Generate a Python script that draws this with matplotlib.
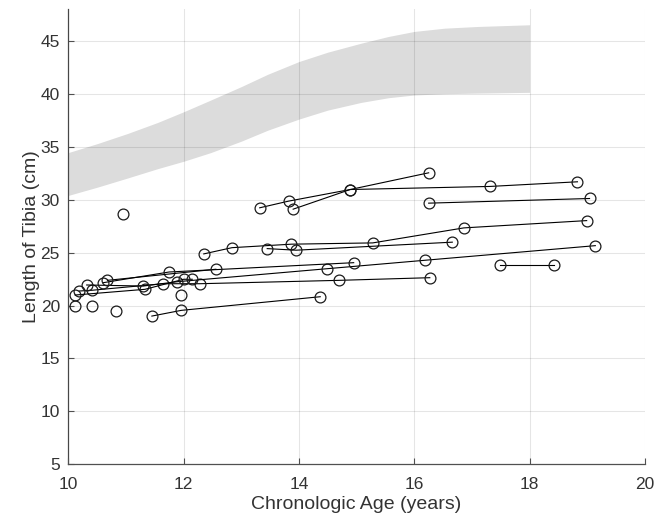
import matplotlib
matplotlib.use("Agg")
import matplotlib.pyplot as plt
import numpy as np

plt.rcParams['font.family'] = ['Liberation Sans', 'DejaVu Sans']

# normal range band (reference population)
band_age = [10.0, 10.51, 11.03, 11.55, 12.0, 12.47, 13.0, 13.46, 14.0, 14.5,
            15.08, 15.55, 16.0, 16.53, 17.1, 18.0]
band_low = [30.41, 31.20, 32.06, 32.94, 33.64, 34.46, 35.54, 36.58, 37.63, 38.48,
            39.21, 39.65, 39.91, 40.03, 40.09, 40.16]
band_high = [34.46, 35.32, 36.27, 37.31, 38.32, 39.43, 40.70, 41.87, 43.07, 43.96,
             44.81, 45.44, 45.92, 46.23, 46.39, 46.55]

# longitudinal patients (age, tibia length)
patients = [
    ([11.45, 11.96, 14.37], [19.0, 19.54, 20.83]),
    ([13.32, 13.82, 14.89, 16.25], [29.24, 29.87, 30.97, 32.55]),
    ([13.90, 14.89, 17.31, 18.83], [29.11, 30.97, 31.26, 31.70]),
    ([16.25, 19.04], [29.68, 30.12]),
    ([12.35, 12.84, 13.87, 15.28, 16.86, 18.99], [24.88, 25.47, 25.80, 25.92, 27.34, 28.03]),
    ([13.45, 13.95, 16.66], [25.38, 25.23, 25.99]),
    ([17.48, 18.42], [23.83, 23.83]),
    ([10.19, 10.41, 11.64, 12.28, 14.70, 16.27], [21.37, 21.44, 22.06, 22.06, 22.38, 22.63]),
    ([10.32, 11.30, 11.89, 14.49, 16.19, 19.14], [21.94, 21.84, 22.25, 23.48, 24.28, 25.66]),
    ([10.61, 11.75, 14.95], [22.16, 23.17, 24.05]),
    ([10.68, 12.56], [22.38, 23.43]),
    ([10.12, 11.33, 12.00, 12.15], [20.99, 21.53, 22.48, 22.48]),
]

# single visits
single_age = [10.12, 10.42, 10.83, 10.95, 11.96]
single_len = [19.92, 19.92, 19.45, 28.67, 20.99]

fig = plt.figure(figsize=(6.69, 5.25), dpi=100)
ax = fig.add_axes([0.102, 0.116, 0.862, 0.866])

ax.fill_between(band_age, band_low, band_high, color='#dcdcdc', lw=0, zorder=1)

for ages, lens in patients:
    ax.plot(ages, lens, '-o', color='black', lw=0.8, ms=7.8, mfc='none',
            mec='#1a1a1a', mew=0.9, zorder=3)
ax.plot(single_age, single_len, 'o', ms=7.8, mfc='none', mec='#1a1a1a',
        mew=0.9, zorder=3)

ax.set_xlim(10, 20)
ax.set_ylim(5, 48)
ax.set_xticks(np.arange(10, 21, 2))
ax.set_yticks(np.arange(5, 46, 5))
ax.grid(True, color='black', alpha=0.1, lw=0.8)
ax.set_axisbelow(False)

for s in ['top', 'right']:
    ax.spines[s].set_visible(False)
for s in ['left', 'bottom']:
    ax.spines[s].set_color('#505050')
    ax.spines[s].set_linewidth(0.9)

ax.tick_params(direction='in', length=4, width=0.8, colors='#505050',
               labelcolor='#333333', labelsize=12.5)
ax.tick_params(axis='x', pad=9)
ax.tick_params(axis='y', pad=6)

ax.set_xlabel('Chronologic Age (years)', fontsize=14, color='#333333', labelpad=3)
ax.set_ylabel('Length of Tibia (cm)', fontsize=14, color='#333333', labelpad=0)

fig.savefig('out.png', dpi=100)
